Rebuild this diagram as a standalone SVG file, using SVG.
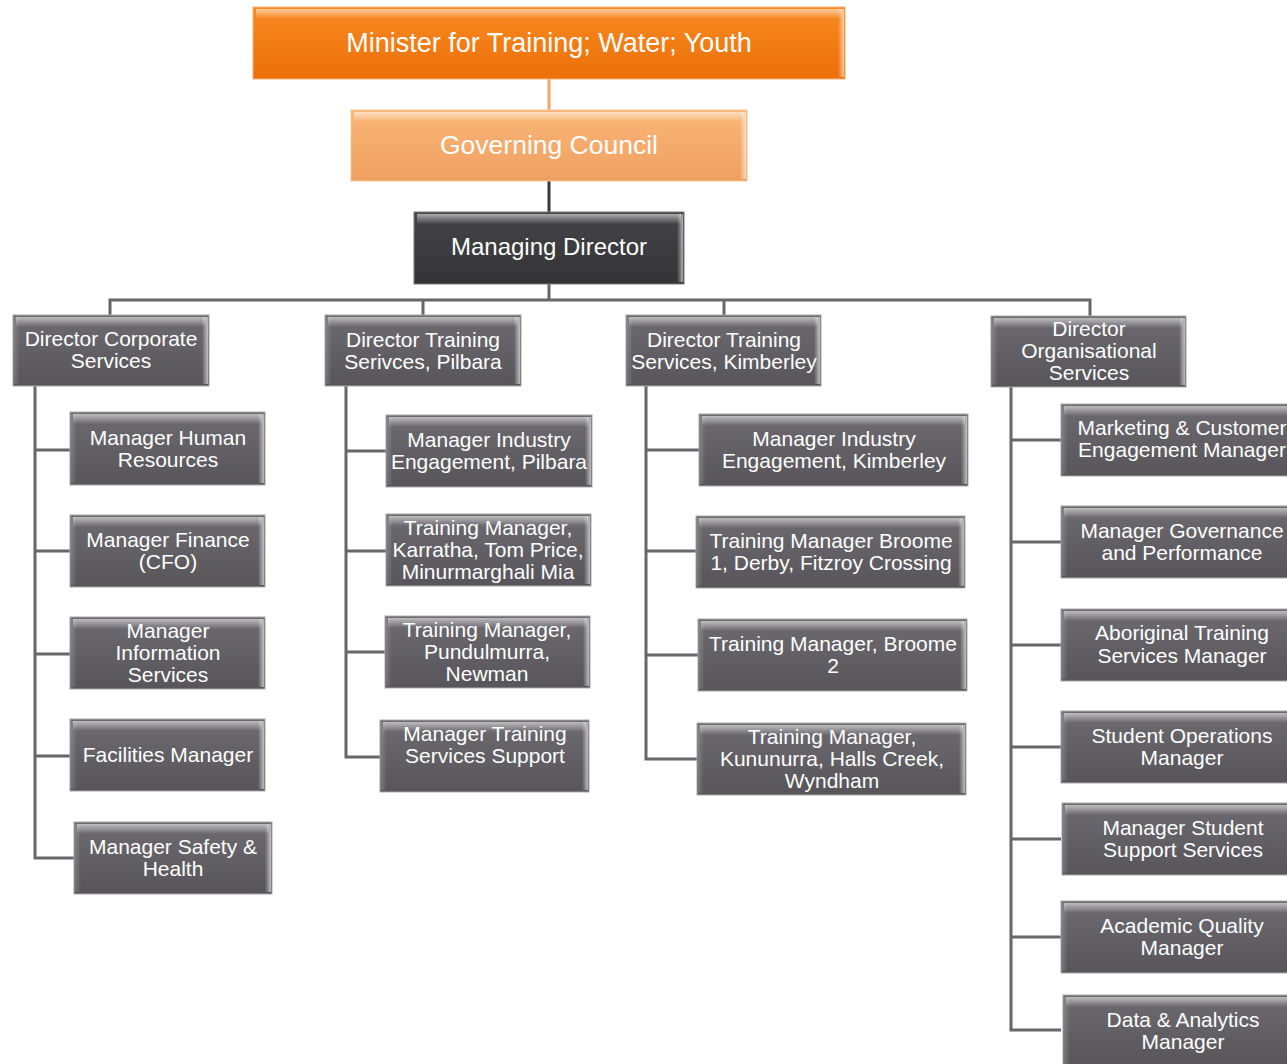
<svg xmlns="http://www.w3.org/2000/svg" width="1287" height="1064" viewBox="0 0 1287 1064">
<defs>
<linearGradient id="gGray" x1="0" y1="0" x2="0" y2="1">
<stop offset="0" stop-color="#6d6b70"/>
<stop offset="1" stop-color="#575559"/>
</linearGradient>
<linearGradient id="gDark" x1="0" y1="0" x2="0" y2="1">
<stop offset="0" stop-color="#454448"/>
<stop offset="1" stop-color="#343336"/>
</linearGradient>
<linearGradient id="gOrange" x1="0" y1="0" x2="0" y2="1">
<stop offset="0" stop-color="#f98a22"/>
<stop offset="1" stop-color="#ec6f08"/>
</linearGradient>
<linearGradient id="gLight" x1="0" y1="0" x2="0" y2="1">
<stop offset="0" stop-color="#fbb577"/>
<stop offset="1" stop-color="#eea061"/>
</linearGradient>
<linearGradient id="hlTop" x1="0" y1="0" x2="0" y2="1">
<stop offset="0" stop-color="#ffffff" stop-opacity="0.55"/>
<stop offset="1" stop-color="#ffffff" stop-opacity="0"/>
</linearGradient>
<linearGradient id="hlRight" x1="0" y1="0" x2="1" y2="0">
<stop offset="0" stop-color="#ffffff" stop-opacity="0"/>
<stop offset="1" stop-color="#ffffff" stop-opacity="0.6"/>
</linearGradient>
<linearGradient id="hlLeft" x1="0" y1="0" x2="1" y2="0">
<stop offset="0" stop-color="#ffffff" stop-opacity="0.18"/>
<stop offset="1" stop-color="#ffffff" stop-opacity="0"/>
</linearGradient>
</defs>
<style>
.box{fill:url(#gGray);stroke:#a9a8ac;stroke-width:1}
.dark{fill:url(#gDark);stroke:#7a797d;stroke-width:1}
.org{fill:url(#gOrange);stroke:#f6b27a;stroke-width:1}
.lor{fill:url(#gLight);stroke:#f6c49a;stroke-width:1}
.ht{fill:url(#hlTop)}
.hr{fill:url(#hlRight)}
.hl{fill:url(#hlLeft)}
text{font-family:"Liberation Sans",Arial,sans-serif;fill:#ffffff;text-anchor:middle}
.t{font-size:21px}
.big{font-size:27px}
.gc{font-size:26.5px}
.md{font-size:24px}
.con{fill:none;stroke:#67666b;stroke-width:3}
</style>
<g id="connectors">
<line x1="549" y1="79" x2="549" y2="110" stroke="#f4a56c" stroke-width="3"/>
<line x1="549" y1="181" x2="549" y2="212" stroke="#38373a" stroke-width="3"/>
<polyline class="con" points="549,284 549,300"/>
<polyline class="con" points="110,315 110,300 1090,300 1090,316"/>
<line class="con" x1="423" y1="300" x2="423" y2="315"/>
<line class="con" x1="724" y1="300" x2="724" y2="315"/>
<polyline class="con" points="35,386 35,858 74,858"/>
<line class="con" x1="35" y1="450" x2="70" y2="450"/>
<line class="con" x1="35" y1="551" x2="70" y2="551"/>
<line class="con" x1="35" y1="654" x2="70" y2="654"/>
<line class="con" x1="35" y1="756" x2="70" y2="756"/>
<polyline class="con" points="346,386 346,757 380,757"/>
<line class="con" x1="346" y1="451" x2="386" y2="451"/>
<line class="con" x1="346" y1="551" x2="386" y2="551"/>
<line class="con" x1="346" y1="652" x2="385" y2="652"/>
<polyline class="con" points="646,386 646,759 697,759"/>
<line class="con" x1="646" y1="450" x2="699" y2="450"/>
<line class="con" x1="646" y1="551" x2="696" y2="551"/>
<line class="con" x1="646" y1="655" x2="698" y2="655"/>
<polyline class="con" points="1011,387 1011,1030 1061,1030"/>
<line class="con" x1="1011" y1="440" x2="1061" y2="440"/>
<line class="con" x1="1011" y1="542" x2="1061" y2="542"/>
<line class="con" x1="1011" y1="645" x2="1061" y2="645"/>
<line class="con" x1="1011" y1="747" x2="1061" y2="747"/>
<line class="con" x1="1011" y1="839" x2="1061" y2="839"/>
<line class="con" x1="1011" y1="937" x2="1061" y2="937"/>
</g>

<g id="minister">
<rect class="org" x="253" y="7" width="592" height="72"/>
<rect class="ht" x="256" y="9" width="586" height="10"/>
<rect class="hr" x="838" y="9" width="6" height="68"/>
<text class="big" x="549" y="52">Minister for Training; Water; Youth</text>
</g>
<g id="governing-council">
<rect class="lor" x="351" y="110" width="396" height="71"/>
<rect class="ht" x="354" y="112" width="390" height="10"/>
<rect class="hr" x="740" y="112" width="6" height="67"/>
<text class="gc" x="549" y="154">Governing Council</text>
</g>
<g id="managing-director">
<rect class="dark" x="414" y="212" width="270" height="72"/>
<rect class="ht" x="417" y="214" width="264" height="10"/>
<rect class="hr" x="677" y="214" width="6" height="68"/>
<text class="md" x="549" y="255">Managing Director</text>
</g>

<g id="dir-corporate">
<rect class="box" x="13" y="315" width="196" height="71"/>
<rect class="ht" x="16" y="317" width="190" height="10"/><rect class="hr" x="202" y="317" width="6" height="67"/><rect class="hl" x="14" y="317" width="6" height="67"/>
<text class="t" x="111" y="346">Director Corporate</text><text class="t" x="111" y="368">Services</text>
</g>
<g id="dir-pilbara">
<rect class="box" x="325" y="315" width="196" height="71"/>
<rect class="ht" x="328" y="317" width="190" height="10"/><rect class="hr" x="514" y="317" width="6" height="67"/><rect class="hl" x="326" y="317" width="6" height="67"/>
<text class="t" x="423" y="347">Director Training</text><text class="t" x="423" y="369">Serivces, Pilbara</text>
</g>
<g id="dir-kimberley">
<rect class="box" x="626" y="315" width="195" height="71"/>
<rect class="ht" x="629" y="317" width="189" height="10"/><rect class="hr" x="814" y="317" width="6" height="67"/><rect class="hl" x="627" y="317" width="6" height="67"/>
<text class="t" x="724" y="347">Director Training</text><text class="t" x="724" y="369">Services, Kimberley</text>
</g>
<g id="dir-organisational">
<rect class="box" x="991" y="316" width="195" height="71"/>
<rect class="ht" x="994" y="318" width="189" height="10"/><rect class="hr" x="1179" y="318" width="6" height="67"/><rect class="hl" x="992" y="318" width="6" height="67"/>
<text class="t" x="1089" y="336">Director</text><text class="t" x="1089" y="358">Organisational</text><text class="t" x="1089" y="380">Services</text>
</g>

<g id="mgr-hr">
<rect class="box" x="70" y="412" width="195" height="73"/>
<rect class="ht" x="73" y="414" width="189" height="10"/><rect class="hr" x="258" y="414" width="6" height="69"/><rect class="hl" x="71" y="414" width="6" height="69"/>
<text class="t" x="168" y="445">Manager Human</text><text class="t" x="168" y="467">Resources</text>
</g>
<g id="mgr-finance">
<rect class="box" x="70" y="515" width="195" height="72"/>
<rect class="ht" x="73" y="517" width="189" height="10"/><rect class="hr" x="258" y="517" width="6" height="68"/><rect class="hl" x="71" y="517" width="6" height="68"/>
<text class="t" x="168" y="547">Manager Finance</text><text class="t" x="168" y="569">(CFO)</text>
</g>
<g id="mgr-info">
<rect class="box" x="70" y="617" width="195" height="72"/>
<rect class="ht" x="73" y="619" width="189" height="10"/><rect class="hr" x="258" y="619" width="6" height="68"/><rect class="hl" x="71" y="619" width="6" height="68"/>
<text class="t" x="168" y="638">Manager</text><text class="t" x="168" y="660">Information</text><text class="t" x="168" y="682">Services</text>
</g>
<g id="facilities">
<rect class="box" x="70" y="719" width="195" height="72"/>
<rect class="ht" x="73" y="721" width="189" height="10"/><rect class="hr" x="258" y="721" width="6" height="68"/><rect class="hl" x="71" y="721" width="6" height="68"/>
<text class="t" x="168" y="762">Facilities Manager</text>
</g>
<g id="mgr-safety">
<rect class="box" x="74" y="822" width="198" height="72"/>
<rect class="ht" x="77" y="824" width="192" height="10"/><rect class="hr" x="265" y="824" width="6" height="68"/><rect class="hl" x="75" y="824" width="6" height="68"/>
<text class="t" x="173" y="854">Manager Safety &amp;</text><text class="t" x="173" y="876">Health</text>
</g>

<g id="mie-pilbara">
<rect class="box" x="386" y="415" width="206" height="72"/>
<rect class="ht" x="389" y="417" width="200" height="10"/><rect class="hr" x="585" y="417" width="6" height="68"/><rect class="hl" x="387" y="417" width="6" height="68"/>
<text class="t" x="489" y="447">Manager Industry</text><text class="t" x="489" y="469">Engagement, Pilbara</text>
</g>
<g id="tm-karratha">
<rect class="box" x="386" y="514" width="205" height="72"/>
<rect class="ht" x="389" y="516" width="199" height="10"/><rect class="hr" x="584" y="516" width="6" height="68"/><rect class="hl" x="387" y="516" width="6" height="68"/>
<text class="t" x="488" y="535">Training Manager,</text><text class="t" x="488" y="557">Karratha, Tom Price,</text><text class="t" x="488" y="579">Minurmarghali Mia</text>
</g>
<g id="tm-pundulmurra">
<rect class="box" x="385" y="616" width="205" height="72"/>
<rect class="ht" x="388" y="618" width="199" height="10"/><rect class="hr" x="583" y="618" width="6" height="68"/><rect class="hl" x="386" y="618" width="6" height="68"/>
<text class="t" x="487" y="637">Training Manager,</text><text class="t" x="487" y="659">Pundulmurra,</text><text class="t" x="487" y="681">Newman</text>
</g>
<g id="mgr-tss">
<rect class="box" x="380" y="720" width="209" height="72"/>
<rect class="ht" x="383" y="722" width="203" height="10"/><rect class="hr" x="582" y="722" width="6" height="68"/><rect class="hl" x="381" y="722" width="6" height="68"/>
<text class="t" x="485" y="741">Manager Training</text><text class="t" x="485" y="763">Services Support</text>
</g>

<g id="mie-kimberley">
<rect class="box" x="699" y="414" width="269" height="72"/>
<rect class="ht" x="702" y="416" width="263" height="10"/><rect class="hr" x="961" y="416" width="6" height="68"/><rect class="hl" x="700" y="416" width="6" height="68"/>
<text class="t" x="834" y="446">Manager Industry</text><text class="t" x="834" y="468">Engagement, Kimberley</text>
</g>
<g id="tm-broome1">
<rect class="box" x="696" y="516" width="269" height="72"/>
<rect class="ht" x="699" y="518" width="263" height="10"/><rect class="hr" x="958" y="518" width="6" height="68"/><rect class="hl" x="697" y="518" width="6" height="68"/>
<text class="t" x="831" y="548">Training Manager Broome</text><text class="t" x="831" y="570">1, Derby, Fitzroy Crossing</text>
</g>
<g id="tm-broome2">
<rect class="box" x="698" y="619" width="269" height="72"/>
<rect class="ht" x="701" y="621" width="263" height="10"/><rect class="hr" x="960" y="621" width="6" height="68"/><rect class="hl" x="699" y="621" width="6" height="68"/>
<text class="t" x="833" y="651">Training Manager, Broome</text><text class="t" x="833" y="673">2</text>
</g>
<g id="tm-kununurra">
<rect class="box" x="697" y="723" width="269" height="72"/>
<rect class="ht" x="700" y="725" width="263" height="10"/><rect class="hr" x="959" y="725" width="6" height="68"/><rect class="hl" x="698" y="725" width="6" height="68"/>
<text class="t" x="832" y="744">Training Manager,</text><text class="t" x="832" y="766">Kununurra, Halls Creek,</text><text class="t" x="832" y="788">Wyndham</text>
</g>

<g id="marketing">
<rect class="box" x="1061" y="404" width="242" height="72"/>
<rect class="ht" x="1064" y="406" width="236" height="10"/><rect class="hl" x="1062" y="406" width="6" height="68"/>
<text class="t" x="1182" y="435">Marketing &amp; Customer</text><text class="t" x="1182" y="457">Engagement Manager</text>
</g>
<g id="governance">
<rect class="box" x="1061" y="506" width="242" height="72"/>
<rect class="ht" x="1064" y="508" width="236" height="10"/><rect class="hl" x="1062" y="508" width="6" height="68"/>
<text class="t" x="1182" y="538">Manager Governance</text><text class="t" x="1182" y="560">and Performance</text>
</g>
<g id="aboriginal">
<rect class="box" x="1061" y="609" width="242" height="72"/>
<rect class="ht" x="1064" y="611" width="236" height="10"/><rect class="hl" x="1062" y="611" width="6" height="68"/>
<text class="t" x="1182" y="640">Aboriginal Training</text><text class="t" x="1182" y="662.5">Services Manager</text>
</g>
<g id="student-ops">
<rect class="box" x="1061" y="711" width="242" height="72"/>
<rect class="ht" x="1064" y="713" width="236" height="10"/><rect class="hl" x="1062" y="713" width="6" height="68"/>
<text class="t" x="1182" y="743">Student Operations</text><text class="t" x="1182" y="765">Manager</text>
</g>
<g id="student-support">
<rect class="box" x="1062" y="803" width="242" height="72"/>
<rect class="ht" x="1065" y="805" width="236" height="10"/><rect class="hl" x="1063" y="805" width="6" height="68"/>
<text class="t" x="1183" y="835">Manager Student</text><text class="t" x="1183" y="857">Support Services</text>
</g>
<g id="academic">
<rect class="box" x="1061" y="901" width="242" height="72"/>
<rect class="ht" x="1064" y="903" width="236" height="10"/><rect class="hl" x="1062" y="903" width="6" height="68"/>
<text class="t" x="1182" y="933">Academic Quality</text><text class="t" x="1182" y="955">Manager</text>
</g>
<g id="data-analytics">
<rect class="box" x="1063" y="995" width="242" height="72"/>
<rect class="ht" x="1066" y="997" width="236" height="10"/><rect class="hl" x="1064" y="997" width="6" height="68"/>
<text class="t" x="1183" y="1027">Data &amp; Analytics</text><text class="t" x="1183" y="1049">Manager</text>
</g>
</svg>
